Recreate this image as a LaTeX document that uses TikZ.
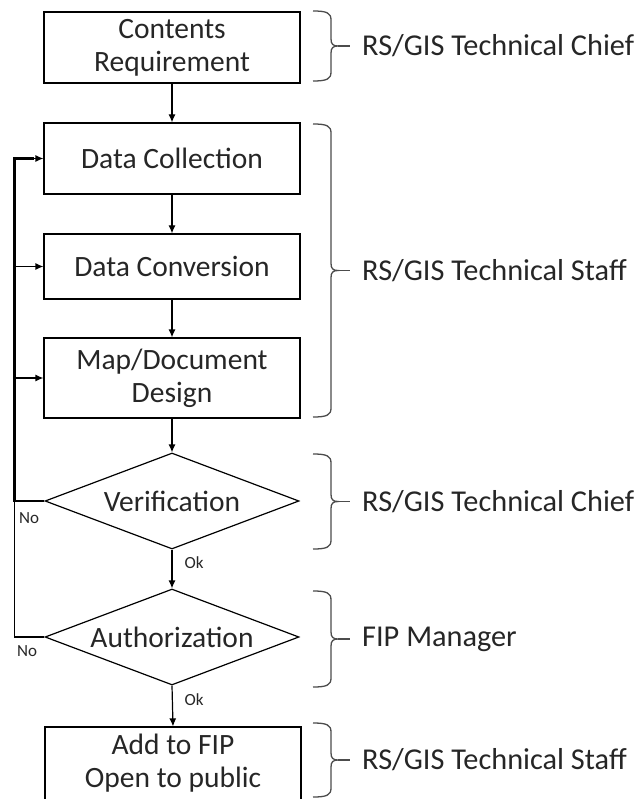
\documentclass[tikz,border=0pt]{standalone}
\usepackage{fontspec}
\setmainfont{Carlito}
\usetikzlibrary{shapes, positioning, arrows, arrows.meta, calc}
\tikzstyle{every node}=[text=black!85]
\tikzstyle{process}=[draw=black, line width=1.2pt, minimum width=256pt,
  align=center, font=\fontsize{29.5}{33}\selectfont]
\tikzstyle{decision}=[diamond, draw=black, line width=1.2pt,
  minimum width=254pt, minimum height=96pt, inner sep=0pt]
\tikzstyle{role}=[anchor=west, inner xsep=12pt, font=\fontsize{30.3}{35}\selectfont]
\tikzstyle{answer}=[font=\fontsize{17}{19}\selectfont]
\tikzstyle{arrow}=[->, >={Latex[length=8pt,width=7pt]}, line width=1.2pt]
\tikzstyle{loopLine}=[line width=2.6pt]
\tikzstyle{brace}=[draw=black!70, line width=1.3pt]

\begin{document}
\begin{tikzpicture}[x=1pt, y=-1pt]
      \useasboundingbox (0,0) rectangle (644,799);

      \node[process, minimum height=71pt] (contents) at (172,47.5) {Contents\\Requirement};
      \node[process, minimum height=71pt] (collection) at (172,158.5) {Data Collection};
      \node[process, minimum height=65pt] (conversion) at (172,266.5) {Data Conversion};
      \node[process, minimum height=80pt] (design) at (172,378) {Map/Document\\Design};
      \node[decision, label={[font=\fontsize{29.5}{33}\selectfont]center:Verification}]
        (verification) at (172,501) {};
      \node[decision, label={[font=\fontsize{29.5}{33}\selectfont]center:Authorization}]
        (authorization) at (172,637) {};
      \node[process, minimum height=73pt] (publish) at (173,763.5) {Add to FIP\\Open to public};

      \node[answer] (okVer) at (194,563) {Ok};
      \node[answer] (okAut) at (194,700) {Ok};
      \node[answer] (noVer) at (29,518) {No};
      \node[answer] (noAut) at (27,651) {No};

      % roles on the right
      \node[role] (roleContents) at (350,46) {RS/GIS Technical Chief};
      \node[role] (roleStaff) at (350,270.5) {RS/GIS Technical Staff};
      \node[role] (roleCheck) at (350,501.5) {RS/GIS Technical Chief};
      \node[role] (roleManager) at (350,639) {FIP Manager};
      \node[role] (rolePublish) at (350,760) {RS/GIS Technical Staff};

      \foreach \a/\b in {contents/collection, collection/conversion,
        conversion/design, design/verification, verification/authorization,
        authorization/publish}{
        \draw[arrow] (\a.south) -- (\b.north);
      }

      % loops back to data collection
      \coordinate (loopTop) at ($(collection.west)+(-29,0)$);
      \draw[loopLine] (verification.west) -| (loopTop) -- ($(collection.west)+(-9,0)$);
      \draw[arrow] (authorization.west) -| (loopTop) -- (collection.west);
      \foreach \b in {conversion, design}{
        \draw[arrow] (loopTop |- \b.west) -- (\b.west);
      }

      \foreach \t/\b/\r in {11/81/roleContents, 124/417/roleStaff,
        454/549/roleCheck, 591/687/roleManager, 723/797/rolePublish}{
        \pgfmathsetmacro\m{(\t+\b)/2}
        \draw[brace] (313,\t) .. controls (327,\t) and (331,\t+2) .. (331,\t+9)
          -- (331,\m-7) .. controls (331,\m-2) and (333,\m) .. (338,\m)
          .. controls (333,\m) and (331,\m+2) .. (331,\m+7)
          -- (331,\b-9) .. controls (331,\b-2) and (327,\b) .. (313,\b);
        \draw[brace] (338,\m) -- (\r.west);
      }
    \end{tikzpicture}
\end{document}
